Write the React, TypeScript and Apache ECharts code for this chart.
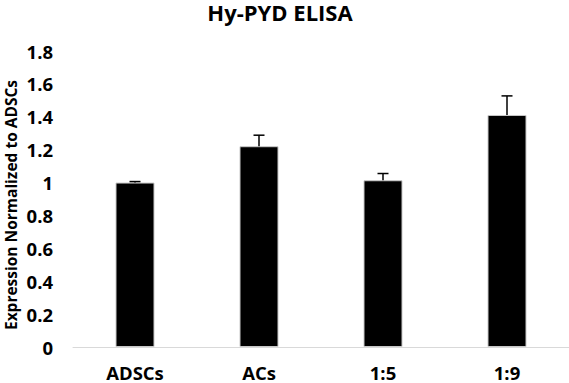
import React, { useEffect, useRef } from "react";
import * as echarts from "echarts";

const categories = ["ADSCs", "ACs", "1:5", "1:9"];
const values = [1.0, 1.221, 1.014, 1.411];
const errors = [0.006, 0.067, 0.041, 0.116];
const yTicks = [0, 0.2, 0.4, 0.6, 0.8, 1, 1.2, 1.4, 1.6, 1.8];
const titleText = "Hy-PYD ELISA";
const yAxisName = "Expression Normalized to ADSCs";

const FONT = "'Open Sans', Lato, sans-serif";

export default function App() {
  const ref = useRef<HTMLDivElement>(null);
  useEffect(() => {
    if (!ref.current) return;
    const chart = echarts.init(ref.current, null, { renderer: "svg" });
    chart.setOption({
      animation: false,
      backgroundColor: "#ffffff",
      title: {
        text: titleText,
        left: 280,
        textAlign: "center",
        top: 2,
        padding: 0,
        textStyle: { fontFamily: FONT, fontWeight: "bold", fontSize: 22, lineHeight: 20, color: "#000" },
      },
      grid: { left: 73, right: 0, top: 51, bottom: 36, containLabel: false },
      xAxis: {
        type: "category",
        data: categories,
        axisLine: { lineStyle: { color: "#d9d9d9", width: 1 } },
        axisTick: { show: false },
        axisLabel: {
          margin: 16,
          fontFamily: FONT,
          fontWeight: "bold",
          fontSize: 18.5,
          lineHeight: 18,
          color: "#000",
        },
      },
      yAxis: {
        type: "value",
        min: 0,
        max: yTicks[yTicks.length - 1],
        interval: 0.2,
        splitLine: { show: false },
        axisLine: { show: false },
        axisTick: { show: false },
        axisLabel: {
          margin: 20,
          fontFamily: FONT,
          fontWeight: "bold",
          fontSize: 18.5,
          color: "#000",
          formatter: (v: number) => String(Math.round(v * 10) / 10),
        },
      },
      graphic: [
        {
          type: "text",
          x: 11,
          y: 205,
          rotation: Math.PI / 2,
          style: {
            text: yAxisName,
            fontFamily: FONT,
            fontWeight: "bold",
            fontSize: 15.5,
            lineHeight: 18,
            fill: "#000",
            textAlign: "center",
            textVerticalAlign: "middle",
          },
        },
      ],
      series: [
        {
          type: "bar",
          data: values,
          barWidth: 39,
          itemStyle: { color: "#000", borderColor: "#c8c8c8", borderWidth: 1 },
        },
        {
          type: "custom",
          data: values.map((v, i) => [i, v, v + errors[i]]),
          renderItem: (params: any, api: any) => {
            const x = api.value(0);
            const lo = api.coord([x, api.value(1)]);
            const hi = api.coord([x, api.value(2)]);
            const half = 5.5;
            return {
              type: "group",
              children: [
                {
                  type: "line",
                  shape: { x1: lo[0], y1: lo[1], x2: hi[0], y2: hi[1] },
                  style: { stroke: "#000", lineWidth: 1.5 },
                },
                {
                  type: "line",
                  shape: { x1: hi[0] - half, y1: hi[1], x2: hi[0] + half, y2: hi[1] },
                  style: { stroke: "#000", lineWidth: 1.5 },
                },
              ],
            };
          },
          z: 10,
        },
      ],
    });
    return () => chart.dispose();
  }, []);
  return <div ref={ref} style={{ width: 569, height: 383, position: "absolute", left: 0, top: 0 }} />;
}
